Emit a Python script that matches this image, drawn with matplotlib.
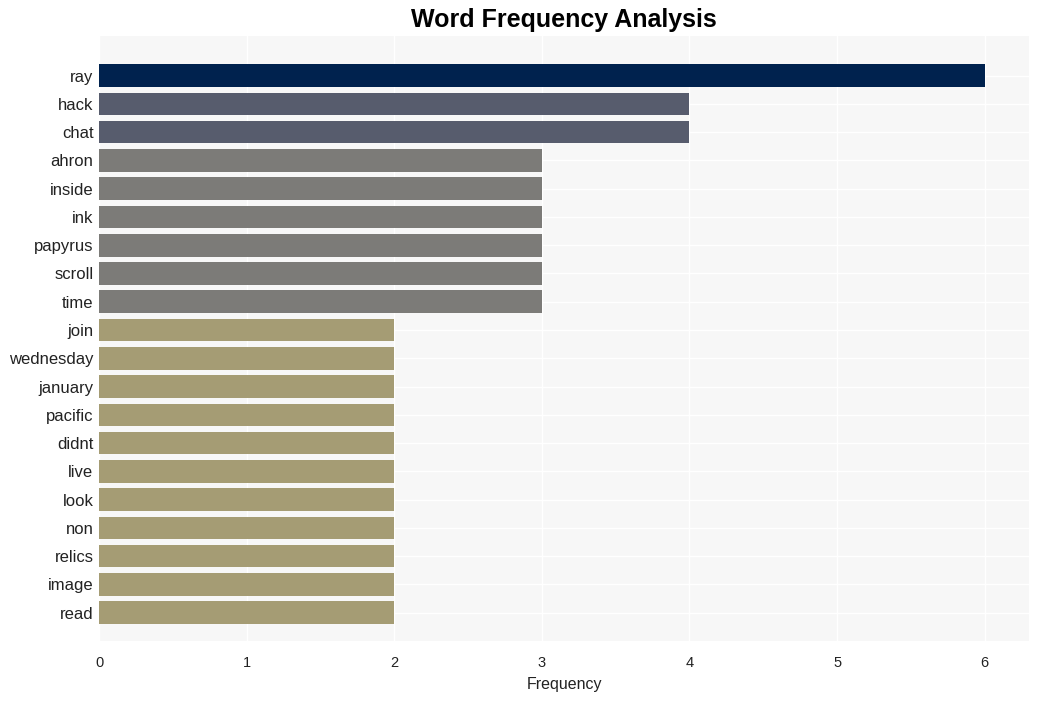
import matplotlib.pyplot as plt
import numpy as np

plt.rcParams['font.family'] = ['Liberation Sans', 'DejaVu Sans']

words = ["ray", "hack", "chat", "ahron", "inside", "ink", "papyrus", "scroll", "time",
         "join", "wednesday", "january", "pacific", "didnt", "live", "look", "non",
         "relics", "image", "read"]
counts = [6, 4, 4, 3, 3, 3, 3, 3, 3, 2, 2, 2, 2, 2, 2, 2, 2, 2, 2, 2]
colors_by_count = {6: "#00224e", 4: "#575c6d", 3: "#7c7b78", 2: "#a59c74"}

fig = plt.figure(figsize=(10.39, 7.01), dpi=100)
ax = fig.add_axes([99 / 1039, 1 - 641 / 701, 930 / 1039, 605 / 701])

ypos = np.arange(len(words))[::-1]
ax.barh(ypos, counts, height=0.8, color=[colors_by_count[c] for c in counts], zorder=3)

ax.set_yticks(ypos)
ax.set_yticklabels(words, fontsize=12, color="#222222")
ax.set_xticks(range(0, 7))
ax.tick_params(axis="x", labelsize=10.5, colors="#222222", length=0, pad=11)
ax.tick_params(axis="y", length=0, pad=4)
ax.set_xlim(0, 6.3)
ax.set_ylim(-1, 20.4)

ax.set_facecolor("#f7f7f7")
ax.grid(True, color="white", linewidth=1, zorder=0)
for s in ax.spines.values():
    s.set_visible(False)

ax.set_xlabel("Frequency", fontsize=11.5, color="#222222", labelpad=4.5)
fig.text(0.543, 0.971, "Word Frequency Analysis", ha="center", va="center",
         fontsize=18, fontweight="bold")

fig.savefig("out.png", dpi=100)
